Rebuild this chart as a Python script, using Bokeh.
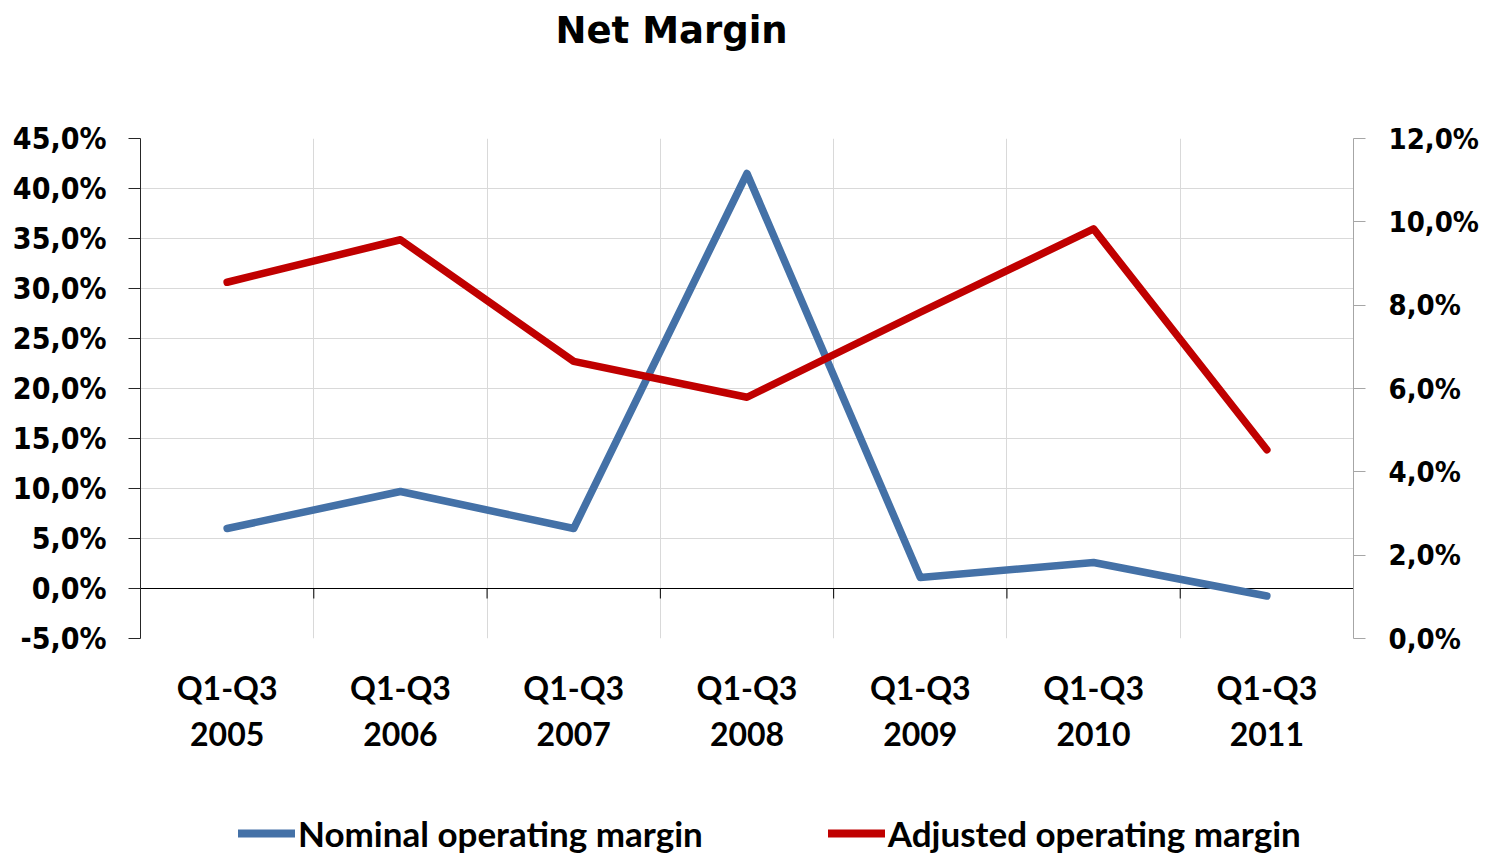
from bokeh.plotting import figure
from bokeh.layouts import column
from bokeh.models import (Range1d, LinearAxis, FixedTicker, Grid, Span, Legend,
                          LegendItem, ColumnDataSource)
from bokeh.embed import file_html
from bokeh.resources import INLINE

# ---- data ----
periods = ["Q1-Q3 2005", "Q1-Q3 2006", "Q1-Q3 2007", "Q1-Q3 2008",
           "Q1-Q3 2009", "Q1-Q3 2010", "Q1-Q3 2011"]
nominal = [6.0, 9.7, 6.0, 41.5, 1.1, 2.6, -0.75]      # % (left axis)
adjusted = [8.55, 9.57, 6.65, 5.79, 7.83, 9.83, 4.53]  # % (right axis)
left_ticks = [-5, 0, 5, 10, 15, 20, 25, 30, 35, 40, 45]
right_ticks = [0, 2, 4, 6, 8, 10, 12]
left_labels = ["-5,0%", "0,0%", "5,0%", "10,0%", "15,0%", "20,0%", "25,0%",
               "30,0%", "35,0%", "40,0%", "45,0%"]
right_labels = ["0,0%", "2,0%", "4,0%", "6,0%", "8,0%", "10,0%", "12,0%"]
series_names = ["Nominal operating margin", "Adjusted operating margin"]
chart_title = "Net Margin"

BLUE = "#4471A7"
RED = "#C00000"
GRID = "#D9D9D9"
TICK_FONT = "DejaVu Sans Condensed"
CAT_FONT = "Lato"
LW = 7.5

W = 1482
TITLE_H = 70
MAIN_H = 710
LEG_H = 74

n = len(periods)
xs = [i + 0.5 for i in range(n)]
bounds = list(range(n + 1))

src = ColumnDataSource(dict(x=xs, nominal=nominal, adjusted=adjusted))

# ---- title strip ----
tf = figure(width=W, height=TITLE_H, x_range=Range1d(0, 1), y_range=Range1d(0, 1),
            x_axis_type=None, y_axis_type=None, output_backend="svg",
            toolbar_location=None, min_border=0, title=chart_title)
tf.outline_line_color = None
tf.title.text_font = "DejaVu Sans"
tf.title.text_font_style = "bold"
tf.title.text_font_size = "37px"
tf.title.align = "left"
tf.title.vertical_align = "top"
tf.title.offset = 415
tf.title.standoff = 16
tf.title.text_color = "black"

# ---- main chart ----
p = figure(width=W, height=MAIN_H, x_range=Range1d(0, n),
           y_range=Range1d(left_ticks[0], left_ticks[-1]),
           x_axis_type=None, y_axis_type=None,
           output_backend="svg", toolbar_location=None,
           min_border_left=140, min_border_right=W - 1355,
           min_border_bottom=MAIN_H - 68 - 500, min_border_top=68)
p.extra_y_ranges = {"right": Range1d(right_ticks[0], right_ticks[-1])}
p.outline_line_color = None
p.background_fill_color = "white"
p.border_fill_color = "white"

# grids
p.add_layout(Grid(dimension=0, ticker=FixedTicker(ticks=bounds[1:-1]),
                  grid_line_color=GRID, grid_line_width=1))
p.add_layout(Grid(dimension=1, ticker=FixedTicker(ticks=left_ticks),
                  grid_line_color=GRID, grid_line_width=1))

# zero line + its tick marks
p.add_layout(Span(location=0, dimension="width", line_color="black",
                  line_width=1, level="underlay"))
p.segment(x0=bounds, y0=[0] * len(bounds), x1=bounds, y1=[-1.0] * len(bounds),
          line_color="black", line_width=1)

# left axis
la = LinearAxis(ticker=FixedTicker(ticks=left_ticks),
                major_label_overrides={t: l for t, l in zip(left_ticks, left_labels)})
la.axis_line_color = "#262626"
la.major_tick_line_color = "#262626"
la.major_tick_out = 12
la.major_tick_in = 0
la.minor_tick_line_color = None
la.major_label_standoff = 22
la.major_label_text_font = TICK_FONT
la.major_label_text_font_style = "bold"
la.major_label_text_font_size = "30px"
la.major_label_text_color = "black"
p.add_layout(la, "left")

# right axis
ra = LinearAxis(y_range_name="right", ticker=FixedTicker(ticks=right_ticks),
                major_label_overrides={t: l for t, l in zip(right_ticks, right_labels)})
ra.axis_line_color = "#A6A6A6"
ra.major_tick_line_color = "#A6A6A6"
ra.major_tick_out = 12
ra.major_tick_in = 0
ra.minor_tick_line_color = None
ra.major_label_standoff = 23
ra.major_label_text_font = TICK_FONT
ra.major_label_text_font_style = "bold"
ra.major_label_text_font_size = "29px"
ra.major_label_text_color = "black"
p.add_layout(ra, "right")

# category axis (labels only)
ba = LinearAxis(ticker=FixedTicker(ticks=xs),
                major_label_overrides={x: s.replace(" ", "\n") for x, s in zip(xs, periods)})
ba.axis_line_color = None
ba.major_tick_line_color = None
ba.minor_tick_line_color = None
ba.major_label_standoff = 23
ba.major_label_text_font = CAT_FONT
ba.major_label_text_font_style = "bold"
ba.major_label_text_font_size = "32px"
ba.major_label_text_line_height = 1.19
ba.major_label_text_color = "black"
p.add_layout(ba, "below")

# data lines
r_nom = p.line("x", "nominal", source=src, line_color=BLUE, line_width=LW,
               line_cap="round", line_join="round")
r_adj = p.line("x", "adjusted", source=src, y_range_name="right", line_color=RED,
               line_width=LW, line_cap="round", line_join="round")

# ---- legend strip (separate figure; its data view is empty on purpose) ----
lf = figure(width=W, height=LEG_H, x_range=Range1d(0, 1), y_range=Range1d(1000, 1001),
            x_axis_type=None, y_axis_type=None, output_backend="svg",
            toolbar_location=None, min_border=0)
lf.outline_line_color = None
l_nom = lf.line("x", "nominal", source=src, line_color=BLUE, line_width=8,
                line_cap="round")
l_adj = lf.line("x", "adjusted", source=src, line_color=RED, line_width=8,
                line_cap="round")

legend = Legend(items=[LegendItem(label=series_names[0], renderers=[l_nom]),
                       LegendItem(label=series_names[1], renderers=[l_adj])],
                orientation="horizontal", location=(98, 0))
legend.label_text_font = CAT_FONT
legend.label_text_font_style = "bold"
legend.label_text_font_size = "35px"
legend.label_text_color = "black"
legend.glyph_width = 57
legend.glyph_height = 20
legend.label_standoff = 3
legend.spacing = 125
legend.padding = 0
legend.margin = 0
legend.border_line_color = None
legend.background_fill_alpha = 0
lf.add_layout(legend)

layout = column(tf, p, lf, spacing=0)
open("out.html", "w").write(file_html(layout, INLINE))
